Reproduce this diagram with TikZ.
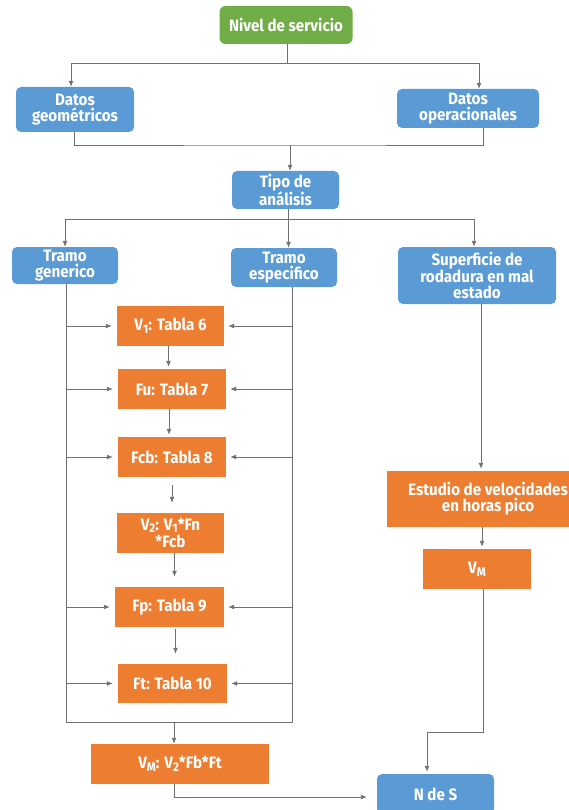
\documentclass[tikz,border=0pt]{standalone}
\usepackage{fontspec}
\setmainfont{Fira Sans}[FakeStretch=0.92]
\usetikzlibrary{positioning}
\usetikzlibrary{calc}
\usetikzlibrary{arrows.meta}

\definecolor{azul}{HTML}{5B9BD5}
\definecolor{naranja}{HTML}{ED7D31}
\definecolor{verde}{HTML}{70AD47}
\definecolor{gris}{HTML}{707070}

\newcommand{\subi}[1]{\raisebox{-0.3ex}{\fontsize{12.5}{12.5}\selectfont #1}}

\tikzset{
    caja/.style={font=\bfseries\fontsize{16.5}{15.8}\selectfont, text=white, align=center, inner sep=0pt},
    azulbox/.style={caja, fill=azul, rounded corners=5pt},
    verdebox/.style={caja, fill=verde, rounded corners=6pt},
    naranjabox/.style={caja, fill=naranja},
    linea/.style={draw=gris, line width=0.9pt},
    flecha/.style={linea, -{Latex[length=6pt,width=5pt]}},
}

\begin{document}
\begin{tikzpicture}[x=1pt, y=-1pt]
    \useasboundingbox (0,0) rectangle (569,810);

    % cabecera
    \node[verdebox, minimum width=133pt, minimum height=38pt] (nivel) at (286,25) {Nivel de servicio};
    \node[azulbox, minimum width=118pt, minimum height=45pt] (geom) at (75,109.5) {Datos\\geométricos};
    \node[azulbox, minimum width=142pt, minimum height=39pt] (oper) at (468,108.5) {Datos\\operacionales};
    \node[azulbox, minimum width=107pt, minimum height=38pt] (tipo) at (285.5,190) {Tipo de\\análisis};

    \node[azulbox, minimum width=106pt, minimum height=37pt] (generico) at (65,265.5) {Tramo\\generico};
    \node[azulbox, minimum width=106pt, minimum height=39pt] (especifico) at (284,267.5) {Tramo\\especifico};
    \node[azulbox, minimum width=158pt, minimum height=57pt] (superficie) at (477,275.5) {Superficie de\\rodadura en mal\\estado};

    % columna de factores
    \node[naranjabox, minimum width=107pt, minimum height=40pt] (v1) at (170.5,326) {V\subi{1}: Tabla 6};
    \node[naranjabox, minimum width=108pt, minimum height=40pt] (fu) at (172,389) {Fu: Tabla 7};
    \node[naranjabox, minimum width=108pt, minimum height=40pt] (fcb) at (172,457) {Fcb: Tabla 8};
    \node[naranjabox, minimum width=107pt, minimum height=40pt] (v2) at (170.5,533) {V\subi{2}: V\subi{1}*Fn\\[1.5pt]*Fcb};
    \node[naranjabox, minimum width=109pt, minimum height=40pt] (fp) at (169.5,607) {Fp: Tabla 9};
    \node[naranjabox, minimum width=109pt, minimum height=39pt] (ft) at (172.5,683.5) {Ft: Tabla 10};
    \node[naranjabox, minimum width=178pt, minimum height=40pt] (vm) at (180,764) {V\subi{M}: V\subi{2}*Fb*Ft};

    % rama derecha
    \node[naranjabox, minimum width=202pt, minimum height=56pt] (estudio) at (488,499) {Estudio de velocidades\\en horas pico};
    \node[naranjabox, minimum width=108pt, minimum height=40pt] (vmr) at (477,569) {V\subi{M}};
    \node[azulbox, minimum width=117pt, minimum height=40pt] (nds) at (435.5,794) {N de S};

    % conectores
    \coordinate (j1) at (287,63);
    \draw[linea] (nivel.south -| j1) -- (j1);
    \draw[flecha] (j1) -| ([xshift=-4pt]geom.north);
    \draw[flecha] (j1) -| ([xshift=11pt]oper.north);

    \coordinate (j2) at (290,145);
    \draw[linea] ([xshift=-1pt]geom.south) |- (j2) -| ([xshift=15pt]oper.south);
    \draw[flecha] (j2) -- (tipo.north -| j2);

    \coordinate (j3) at (288.5,219);
    \draw[linea] (tipo.south -| j3) -- (j3);
    \draw[flecha] (j3) -| (generico.north);
    \draw[flecha] (j3) -- (especifico.north -| j3);
    \draw[flecha] (j3) -| ([xshift=-3pt]superficie.north);

    \coordinate (izq) at (66,722);
    \coordinate (der) at (292,722);
    \draw[linea] (generico.south -| izq) -- (izq) -- (der) -- (especifico.south -| der);

    \foreach \caja in {v1, fu, fcb, fp, ft} {
        \draw[flecha, shorten >=5pt] (izq |- \caja.west) -- (\caja.west);
        \draw[flecha, shorten >=4pt] (der |- \caja.east) -- (\caja.east);
    }

    \draw[flecha, shorten >=2pt] ([xshift=-2pt]v1.south) -- ([xshift=-2pt]v1.south |- fu.north);
    \draw[flecha, shorten >=2pt] ([xshift=-3pt]fu.south) -- ([xshift=-3pt]fu.south |- fcb.north);
    \draw[flecha, shorten >=10pt, shorten <=8pt] (fcb.south) -- (fcb.south |- v2.north);
    \draw[flecha, shorten >=10pt] ([xshift=4pt]v2.south) -- ([xshift=4pt]v2.south |- fp.north);
    \draw[flecha, shorten >=10pt, shorten <=2pt] ([xshift=6pt]fp.south) -- ([xshift=6pt]fp.south |- ft.north);

    \coordinate (j4) at (174,722);
    \draw[flecha] (j4) -- (vm.north -| j4);
    \coordinate (j5) at (174,797);
    \draw[flecha, shorten >=10pt] (vm.south -| j5) -- (j5) -- (nds.west |- j5);

    \draw[flecha, shorten >=2pt] ([xshift=4pt]superficie.south) -- ([xshift=4pt]superficie.south |- estudio.north);
    \draw[flecha, shorten >=2pt] ([xshift=5pt]vmr.north |- estudio.south) -- ([xshift=5pt]vmr.north);
    \coordinate (j6) at (427,732);
    \draw[flecha, shorten >=2pt] ([xshift=6pt]vmr.south) |- (j6) -- (j6 |- nds.north);
\end{tikzpicture}
\end{document}
